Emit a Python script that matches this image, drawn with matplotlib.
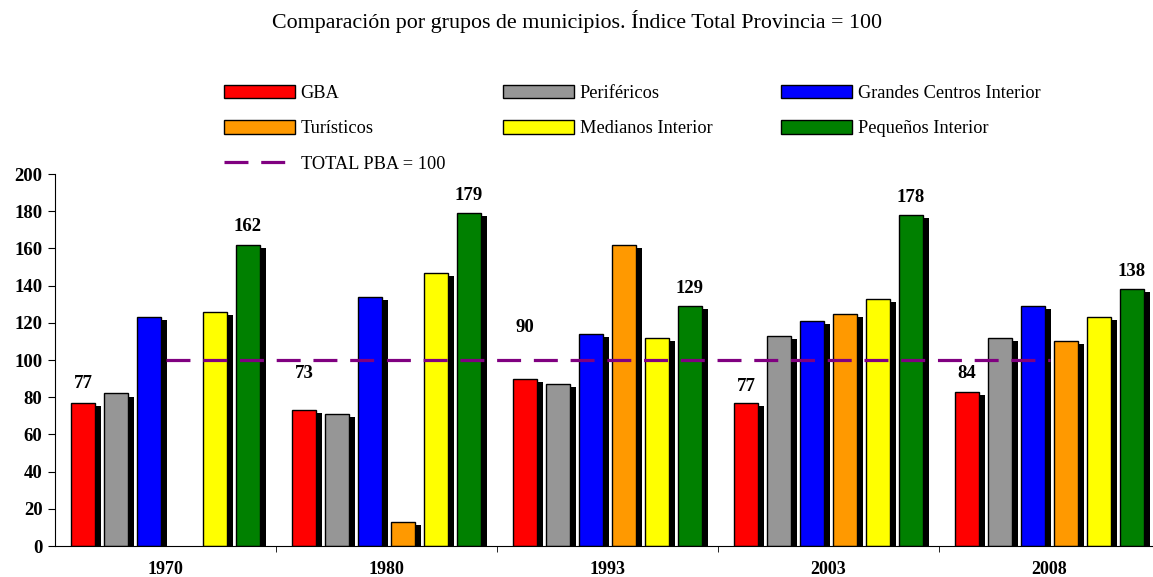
import numpy as np
import matplotlib
matplotlib.use("Agg")
import matplotlib.pyplot as plt
import matplotlib.patheffects as pe
from matplotlib.patches import Patch
from matplotlib.lines import Line2D

plt.rcParams['font.family'] = ['Liberation Serif', 'DejaVu Serif']

# data
years = ['1970', '1980', '1993', '2003', '2008']
groups = ['GBA', 'Periféricos', 'Grandes Centros Interior',
          'Turísticos', 'Medianos Interior', 'Pequeños Interior']
gba = [77, 73, 90, 77, 83]
perifericos = [82, 71, 87, 113, 112]
grandes = [123, 134, 114, 121, 129]
turisticos = [np.nan, 13, 162, 125, 110]
medianos = [126, 147, 112, 133, 123]
pequenos = [162, 179, 129, 178, 138]
total_pba = [100, 100, 100, 100, 100]
gba_labels = ['77', '73', '90', '77', '84']
peq_labels = ['162', '179', '129', '178', '138']

series = [gba, perifericos, grandes, turisticos, medianos, pequenos]
colors = ['#FF0000', '#969696', '#0000FF', '#FF9900', '#FFFF00', '#008000']

fig = plt.figure(figsize=(11.53, 5.77), dpi=100)
ax = fig.add_axes([0.0477, 0.0537, 0.9584, 0.6447])

x = np.arange(len(years))
slot = 0.149
width = 0.109
shadow = [pe.SimplePatchShadow(offset=(4.2, -2.2), shadow_rgbFace='black', alpha=1.0), pe.Normal()]
for i, (vals, c) in enumerate(zip(series, colors)):
    bars = ax.bar(x + (i - 2.5) * slot, vals, width, color=c,
                  edgecolor='black', linewidth=1.0, zorder=2)
    for b in bars:
        b.set_path_effects(shadow)

ax.plot(x, total_pba, color='#800080', lw=2.3, dashes=(7.5, 4), zorder=3)

# labels (GBA labels were placed by hand in the original)
gba_offset = [6, 15, 23, 4, 5]
for i in range(len(years)):
    ax.text(x[i] - 2.5 * slot, gba[i] + gba_offset[i], gba_labels[i],
            ha='center', va='bottom', fontsize=13.5, fontweight='bold')
    ax.text(x[i] + 2.5 * slot, pequenos[i] + 5, peq_labels[i],
            ha='center', va='bottom', fontsize=13.5, fontweight='bold')

ax.set_xlim(-0.5, 4.5)
ax.set_ylim(0, 200)
ax.set_yticks(range(0, 201, 20))
ax.set_xticks(x)
ax.set_xticklabels(years)
ax.set_xticks(x[:-1] + 0.5, minor=True)
ax.tick_params(axis='x', which='major', length=0, pad=11, labelsize=13)
ax.tick_params(axis='x', which='minor', length=4, direction='out')
ax.tick_params(axis='y', length=5, direction='out', labelsize=13.5, pad=4)
for lab in ax.get_xticklabels() + ax.get_yticklabels():
    lab.set_fontweight('bold')
ax.spines['top'].set_visible(False)
ax.spines['right'].set_visible(False)

fig.text(0.5, 0.962, 'Comparación por grupos de municipios. Índice Total Provincia = 100',
         ha='center', va='center', fontsize=15.8)

# legend in three fixed columns
handles = [Patch(facecolor=c, edgecolor='black', linewidth=1.0) for c in colors]
line_h = Line2D([], [], color='#800080', lw=2.3, dashes=(7.5, 4))
cols = [([handles[0], handles[3], line_h], [groups[0], groups[3], 'TOTAL PBA = 100']),
        ([handles[1], handles[4]], [groups[1], groups[4]]),
        ([handles[2], handles[5]], [groups[2], groups[5]])]
col_x = [0.194, 0.436, 0.677]
for (h, l), cx in zip(cols, col_x):
    fig.legend(h, l, loc='upper left', bbox_to_anchor=(cx, 0.853), frameon=False,
               borderpad=0, borderaxespad=0, handlelength=3.9, handleheight=0.75,
               handletextpad=0.3, labelspacing=1.0, fontsize=13.2)

fig.savefig('out.png', dpi=100)
